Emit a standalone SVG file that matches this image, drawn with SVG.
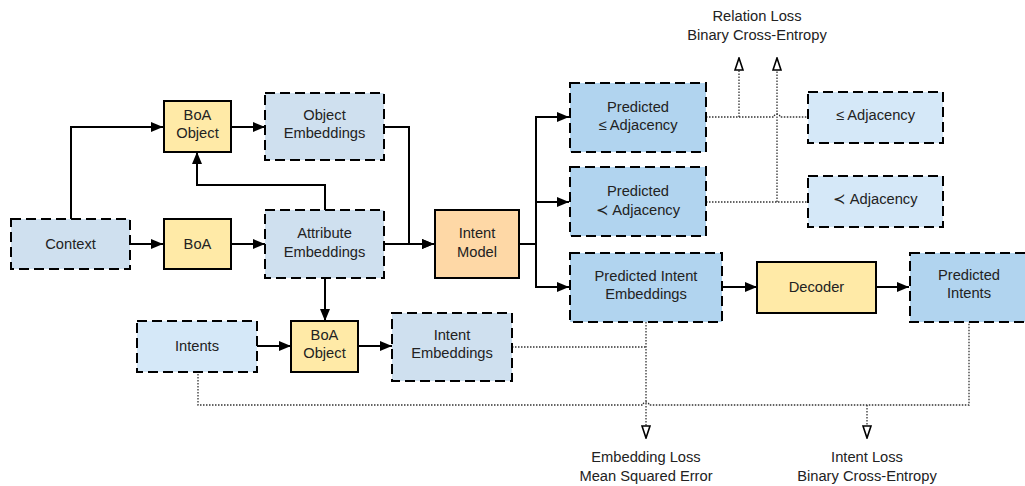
<svg xmlns="http://www.w3.org/2000/svg" width="1025" height="486" viewBox="0 0 1025 486">
<style>
text{font-family:"Liberation Sans",Arial,sans-serif;font-size:14.7px;fill:#222;text-anchor:middle}
.d{stroke:#000;stroke-width:2;stroke-dasharray:10 5}
.s{stroke:#000;stroke-width:2}
.c1{fill:#cfe0ef}.c2{fill:#d5e8f8}.c3{fill:#b1d4ef}.y{fill:#ffeaa7}.o{fill:#fed8a6}
.ln{fill:none;stroke:#000;stroke-width:2}
.dot{fill:none;stroke:#333;stroke-width:1.3;stroke-dasharray:1.5 1.5}
</style>
<defs>
<marker id="a" viewBox="0 0 12 10" refX="12" refY="5" markerWidth="12" markerHeight="10" markerUnits="userSpaceOnUse" orient="auto"><path d="M0 0L12 5L0 10Z" fill="#000"/></marker>
<marker id="h" viewBox="0 0 14 10" refX="13" refY="5" markerWidth="14" markerHeight="10" markerUnits="userSpaceOnUse" orient="auto"><path d="M1 1L13 5L1 9Z" fill="#fff" stroke="#000" stroke-width="1.6"/></marker>
</defs>
<g id="connectors">
<path class="ln" d="M71 219V127H163" marker-end="url(#a)"/>
<path class="ln" d="M130 244H163" marker-end="url(#a)"/>
<path class="ln" d="M231 244H265" marker-end="url(#a)"/>
<path class="ln" d="M231 127H265" marker-end="url(#a)"/>
<path class="ln" d="M325 210V185H197V152" marker-end="url(#a)"/>
<path class="ln" d="M384 127H409V244H434" marker-end="url(#a)"/>
<path class="ln" d="M384 244H434" marker-end="url(#a)"/>
<path class="ln" d="M519 244H536V117H569" marker-end="url(#a)"/>
<path class="ln" d="M536 244V202H569" marker-end="url(#a)"/>
<path class="ln" d="M536 244V287H569" marker-end="url(#a)"/>
<path class="ln" d="M325 278V321" marker-end="url(#a)"/>
<path class="ln" d="M257 346H291" marker-end="url(#a)"/>
<path class="ln" d="M359 346H392" marker-end="url(#a)"/>
<path class="ln" d="M722 287H757" marker-end="url(#a)"/>
<path class="ln" d="M876 287H909" marker-end="url(#a)"/>
<path class="dot" d="M706 117H774A3 3 0 0 1 780 117H807"/>
<path class="dot" d="M739 117V58" marker-end="url(#h)"/>
<path class="dot" d="M706 202H807"/>
<path class="dot" d="M777 202V58" marker-end="url(#h)"/>
<path class="dot" d="M512 347H646"/>
<path class="dot" d="M646 322V438" marker-end="url(#h)"/>
<path class="dot" d="M198 371V405H643A3 3 0 0 1 649 405H969V322"/>
<path class="dot" d="M867 405V438" marker-end="url(#h)"/>
</g>
<g id="context"><rect class="d c1" x="11" y="219" width="119" height="50"/><text x="70.5" y="249">Context</text></g>
<g id="boa"><rect class="s y" x="164" y="219" width="67" height="50"/><text x="197.5" y="249">BoA</text></g>
<g id="boa-object-top"><rect class="s y" x="164" y="101" width="67" height="51"/><text x="197.5" y="120">BoA</text><text x="197.5" y="138">Object</text></g>
<g id="object-embeddings"><rect class="d c1" x="265" y="93" width="119" height="67"/><text x="324.5" y="120">Object</text><text x="324.5" y="138">Embeddings</text></g>
<g id="attribute-embeddings"><rect class="d c1" x="265" y="210" width="119" height="68"/><text x="324.5" y="238">Attribute</text><text x="324.5" y="257">Embeddings</text></g>
<g id="intent-model"><rect class="s o" x="435" y="210" width="84" height="68"/><text x="477" y="238">Intent</text><text x="477" y="257">Model</text></g>
<g id="pred-le"><rect class="d c3" x="570" y="83" width="136" height="69"/><text x="638" y="112">Predicted</text><text x="638" y="130">≤ Adjacency</text></g>
<g id="le-adj"><rect class="d c2" x="808" y="92" width="135" height="51"/><text x="875.5" y="120">≤ Adjacency</text></g>
<g id="pred-lt"><rect class="d c3" x="570" y="167" width="136" height="69"/><text x="638" y="196">Predicted</text><text x="638" y="215">≺ Adjacency</text></g>
<g id="lt-adj"><rect class="d c2" x="808" y="176" width="135" height="51"/><text x="875.5" y="204">≺ Adjacency</text></g>
<g id="pred-intent-emb"><rect class="d c3" x="570" y="253" width="152" height="69"/><text x="646" y="281">Predicted Intent</text><text x="646" y="299">Embeddings</text></g>
<g id="decoder"><rect class="s y" x="757" y="262" width="119" height="51"/><text x="816.5" y="292">Decoder</text></g>
<g id="pred-intents"><rect class="d c3" x="910" y="253" width="120" height="69"/><text x="969" y="280">Predicted</text><text x="969" y="298">Intents</text></g>
<g id="intents"><rect class="d c2" x="137" y="321" width="120" height="51"/><text x="197" y="351">Intents</text></g>
<g id="boa-object-bottom"><rect class="s y" x="291" y="321" width="67" height="51"/><text x="324.5" y="340">BoA</text><text x="324.5" y="358">Object</text></g>
<g id="intent-embeddings"><rect class="d c1" x="392" y="313" width="120" height="68"/><text x="452" y="340">Intent</text><text x="452" y="358">Embeddings</text></g>
<g id="labels">
<text x="757" y="21">Relation Loss</text><text x="757" y="40">Binary Cross-Entropy</text>
<text x="646" y="462">Embedding Loss</text><text x="646" y="481">Mean Squared Error</text>
<text x="867" y="462">Intent Loss</text><text x="867" y="481">Binary Cross-Entropy</text>
</g>
</svg>
